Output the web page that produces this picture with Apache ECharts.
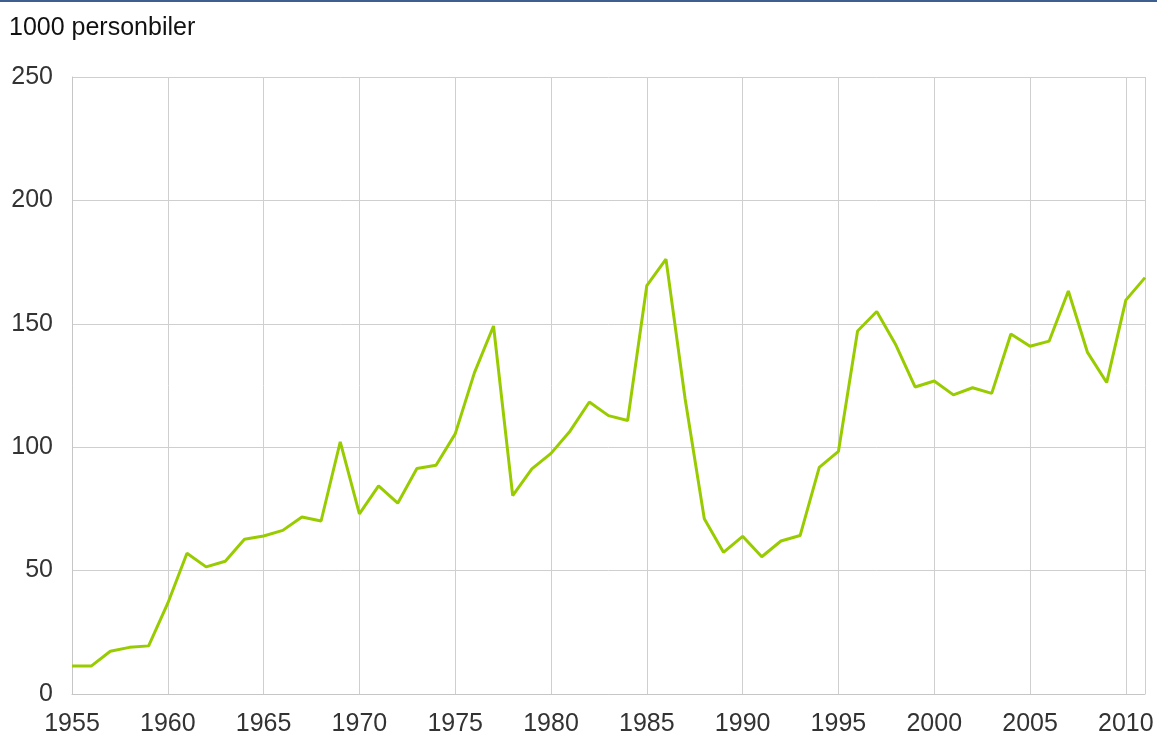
<!DOCTYPE html>
<html>
<head>
<meta charset="utf-8">
<script src="https://cdn.jsdelivr.net/npm/echarts@6/dist/echarts.min.js"></script>
<style>
html,body{margin:0;padding:0;background:#fff;}
#chart{width:1157px;height:738px;}
</style>
</head>
<body>
<div id="chart"></div>
<script>
const years = [1955,1956,1957,1958,1959,1960,1961,1962,1963,1964,1965,1966,1967,1968,1969,1970,1971,1972,1973,1974,1975,1976,1977,1978,1979,1980,1981,1982,1983,1984,1985,1986,1987,1988,1989,1990,1991,1992,1993,1994,1995,1996,1997,1998,1999,2000,2001,2002,2003,2004,2005,2006,2007,2008,2009,2010,2011];
const cars = [11.3,11.3,17.3,18.9,19.5,36.8,57.0,51.5,53.8,62.7,64.0,66.3,71.7,70.1,102.2,73.0,84.3,77.3,91.4,92.7,105.4,130.1,149.1,80.4,91.2,97.5,106.6,118.3,112.8,110.8,165.5,176.2,119.5,71.0,57.4,63.9,55.6,62.0,64.2,91.8,98.3,147.1,155.0,141.4,124.4,126.8,121.2,124.1,121.8,145.9,140.9,143.0,163.3,138.4,126.2,159.6,168.7];
const unitLabel = '1000 personbiler';

const chart = echarts.init(document.getElementById('chart'), null, {renderer:'canvas'});
chart.setOption({
  animation:false,
  backgroundColor:'#ffffff',
  graphic:[
    {type:'rect', left:0, top:0, shape:{width:1157, height:2}, style:{fill:'#3d5f8f'}},
    {type:'text', left:9, top:16, style:{text:unitLabel, fontSize:25, fontFamily:'Liberation Sans, Arial, sans-serif', fill:'#111'}}
  ],
  grid:{left:72, right:12, top:77, bottom:44, containLabel:false},
  xAxis:{
    type:'value', min:1955, max:2011, interval:5,
    axisLine:{show:true, lineStyle:{color:'#c6c6c6', width:1}},
    axisTick:{show:false},
    axisLabel:{show:true, showMaxLabel:false, margin:18, fontSize:25, color:'#333', fontFamily:'Liberation Sans, Arial, sans-serif', formatter:v=>String(v)},
    splitLine:{show:true, lineStyle:{color:'#cfcfcf', width:1}}
  },
  yAxis:{
    type:'value', min:0, max:250, interval:50,
    axisLine:{show:true, lineStyle:{color:'#c6c6c6', width:1}},
    axisTick:{show:false},
    axisLabel:{margin:19, fontSize:25, color:'#333', fontFamily:'Liberation Sans, Arial, sans-serif'},
    splitLine:{show:true, lineStyle:{color:'#cfcfcf', width:1}}
  },
  series:[{
    type:'line',
    data: years.map((y,i)=>[y,cars[i]]),
    showSymbol:false,
    symbol:'none',
    lineStyle:{color:'#99cc00', width:3},
    itemStyle:{color:'#99cc00'}
  }]
});
</script>
</body>
</html>
